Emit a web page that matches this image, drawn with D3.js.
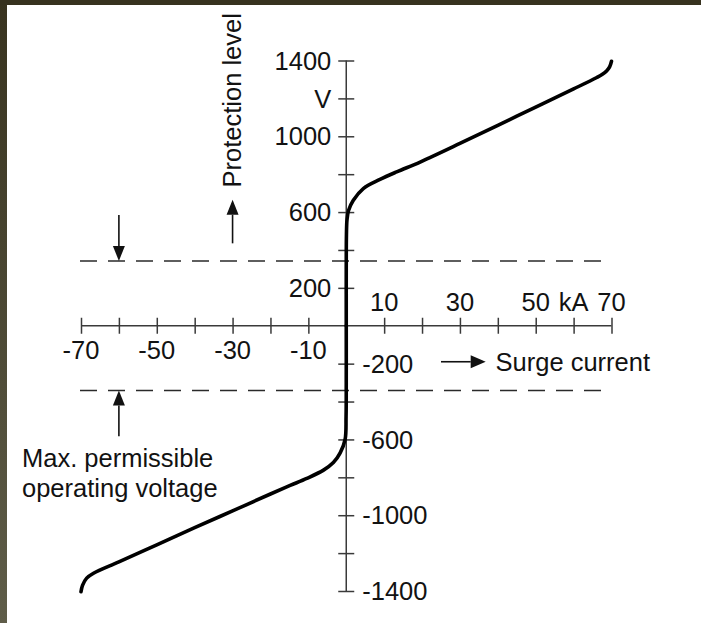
<!DOCTYPE html>
<html>
<head>
<meta charset="utf-8">
<script src="https://cdn.jsdelivr.net/npm/d3@7"></script>
<style>
  html, body { margin: 0; padding: 0; background: #ffffff; }
  svg { display: block; }
  text { font-family: "Liberation Sans", Arial, Helvetica, sans-serif; fill: #121212; }
</style>
</head>
<body>
<svg id="chart" width="701" height="623"></svg>
<script>
// Voltage/current characteristic of a surge protective device (both polarities)

// Surge current axis (kA)
const currentTicks = [-70, -60, -50, -40, -30, -20, -10, 10, 20, 30, 40, 50, 60, 70];
const currentLabelsAbove = [10, 30, 50, 70];
const currentLabelsBelow = [-70, -50, -30, -10];
const currentUnit = "kA";
const currentUnitAt = 60;

// Protection level axis (V)
const voltageTicks = [-1400, -1200, -1000, -800, -600, -400, -200, 200, 400, 600, 800, 1000, 1200, 1400];
const voltageLabelsLeftValues = [1400, 1200, 1000, 600, 200];
const voltageLabelsLeftText = ["1400", "V", "1000", "600", "200"];
const voltageLabelsRight = [-200, -600, -1000, -1400];

// Maximum permissible operating voltage (V)
const maxOperatingVoltage = 342;

// Characteristic curve, positive surge current: [kA, V]
const positiveBranch = [
  [0, 0], [0, 300], [0.05, 480], [0.2, 560], [0.6, 608], [1.87, 662], [4.5, 724],
  [8.9, 772], [13.3, 812], [19.5, 864], [30, 962], [40, 1058], [50, 1154],
  [60, 1250], [66, 1309], [67.6, 1327], [68.7, 1345], [69.5, 1366], [70, 1396]
];

// Characteristic curve, negative surge current: [kA, V]
const negativeBranch = [
  [0, 0], [0, -300], [-0.05, -480], [-0.3, -600], [-1.6, -671], [-3.4, -722],
  [-6, -762], [-10.4, -806], [-14.8, -843], [-20, -888], [-30, -977],
  [-40, -1066], [-50, -1156], [-60, -1246], [-66.7, -1306], [-68.5, -1332],
  [-69.6, -1370], [-70, -1404]
];

const svg = d3.select("#chart");

// Frame strips along the top and left edges
const defs = svg.append("defs");
const grad = defs.append("linearGradient").attr("id", "edge")
  .attr("x1", 0).attr("y1", 0).attr("x2", 0).attr("y2", 1);
grad.append("stop").attr("offset", "0%").attr("stop-color", "#38331f");
grad.append("stop").attr("offset", "100%").attr("stop-color", "#5f5d49");
svg.append("rect").attr("x", 0).attr("y", 0).attr("width", 7).attr("height", 623).attr("fill", "url(#edge)");
svg.append("rect").attr("x", 0).attr("y", 0).attr("width", 701).attr("height", 5).attr("fill", "#37321f");

const x = d3.scaleLinear().domain([-70, 70]).range([81, 611.5]);
const y = d3.scaleLinear().domain([-1400, 1400]).range([591, 60.5]);

const axisColor = "#3a3a3a";
const tickHalf = 8;

// Horizontal axis: line through zero with ticks crossing it
const xAxis = d3.axisBottom(x).tickValues(currentTicks).tickSize(2 * tickHalf).tickSizeOuter(0).tickFormat("");
const gx = svg.append("g").attr("transform", `translate(0,${y(0) - tickHalf})`).call(xAxis);
gx.select(".domain").remove();
gx.selectAll(".tick line").attr("stroke", axisColor).attr("stroke-width", 1.5);
svg.append("line").attr("x1", x(-70)).attr("x2", x(70)).attr("y1", y(0)).attr("y2", y(0))
  .attr("stroke", axisColor).attr("stroke-width", 1.5);

// Vertical axis
const yAxis = d3.axisRight(y).tickValues(voltageTicks).tickSize(2 * tickHalf).tickSizeOuter(0).tickFormat("");
const gy = svg.append("g").attr("transform", `translate(${x(0) - tickHalf},0)`).call(yAxis);
gy.select(".domain").remove();
gy.selectAll(".tick line").attr("stroke", axisColor).attr("stroke-width", 1.5);
svg.append("line").attr("x1", x(0)).attr("x2", x(0)).attr("y1", y(1400)).attr("y2", y(-1400))
  .attr("stroke", axisColor).attr("stroke-width", 1.5);

const fs = 25.5;

// Current tick labels
svg.append("g").selectAll("text").data(currentLabelsAbove).join("text")
  .attr("x", d => x(d)).attr("y", y(0) - tickHalf - 7)
  .attr("text-anchor", "middle").attr("font-size", fs).text(d => d);
svg.append("text").attr("x", x(currentUnitAt)).attr("y", y(0) - tickHalf - 7)
  .attr("text-anchor", "middle").attr("font-size", fs).text(currentUnit);
svg.append("g").selectAll("text").data(currentLabelsBelow).join("text")
  .attr("x", d => x(d)).attr("y", y(0) + tickHalf + 25)
  .attr("text-anchor", "middle").attr("font-size", fs).text(d => d);

// Voltage tick labels
svg.append("g").selectAll("text").data(voltageLabelsLeftValues).join("text")
  .attr("x", x(0) - tickHalf - 7).attr("y", d => y(d)).attr("dy", "0.36em")
  .attr("text-anchor", "end").attr("font-size", fs).text((d, i) => voltageLabelsLeftText[i]);
svg.append("g").selectAll("text").data(voltageLabelsRight).join("text")
  .attr("x", x(0) + tickHalf + 8).attr("y", d => y(d)).attr("dy", "0.36em")
  .attr("text-anchor", "start").attr("font-size", fs).text(d => d);

// Maximum permissible operating voltage, both polarities
svg.append("g").selectAll("line").data([maxOperatingVoltage, -maxOperatingVoltage]).join("line")
  .attr("x1", x(-70) - 1).attr("x2", x(70)).attr("y1", d => y(d)).attr("y2", d => y(d))
  .attr("stroke", "#2a2a2a").attr("stroke-width", 1.5).attr("stroke-dasharray", "17 11");

// Arrow helper: shaft plus filled head
function arrow(x1, y1, x2, y2, headLen = 15, headW = 12) {
  const ang = Math.atan2(y2 - y1, x2 - x1);
  const bx = x2 - headLen * Math.cos(ang), by = y2 - headLen * Math.sin(ang);
  const px = -Math.sin(ang) * headW / 2, py = Math.cos(ang) * headW / 2;
  svg.append("line").attr("x1", x1).attr("y1", y1).attr("x2", bx).attr("y2", by)
    .attr("stroke", "#111").attr("stroke-width", 1.6);
  svg.append("path").attr("d", `M${x2},${y2}L${bx + px},${by + py}L${bx - px},${by - py}Z`).attr("fill", "#111");
}

arrow(x(-60), y(585), x(-60), y(maxOperatingVoltage));
arrow(x(-60), y(-583), x(-60), y(-maxOperatingVoltage));
arrow(x(-30), y(435), x(-30), y(665));
arrow(x(25), y(-190), x(36.8), y(-190), 15, 13);

// Axis titles and annotation
svg.append("text").attr("transform", `translate(${x(-30) + 8},${y(730)}) rotate(-90)`)
  .attr("font-size", fs).attr("text-anchor", "start").text("Protection level");
svg.append("text").attr("x", x(39.4)).attr("y", y(-190)).attr("dy", "0.36em")
  .attr("font-size", fs).text("Surge current");
svg.append("text").attr("x", 22).attr("y", 467).attr("font-size", fs).text("Max. permissible");
svg.append("text").attr("x", 22).attr("y", 497).attr("font-size", fs).text("operating voltage");

// Characteristic curve
const line = d3.line().x(d => x(d[0])).y(d => y(d[1])).curve(d3.curveCatmullRom.alpha(0.5));
svg.append("g").selectAll("path").data([positiveBranch, negativeBranch]).join("path")
  .attr("d", line).attr("fill", "none").attr("stroke", "#000")
  .attr("stroke-width", 3.6).attr("stroke-linecap", "round").attr("stroke-linejoin", "round");
</script>
</body>
</html>
